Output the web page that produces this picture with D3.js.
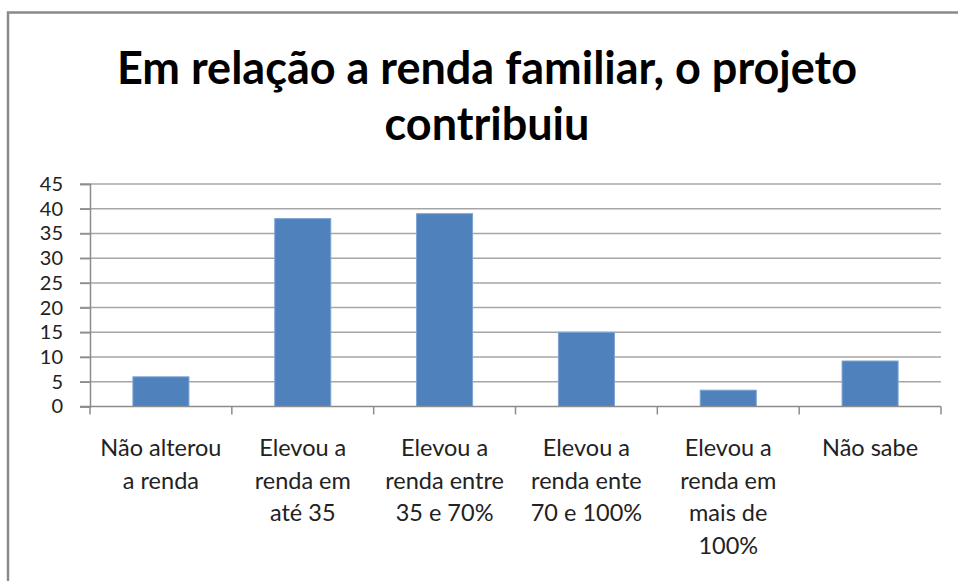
<!DOCTYPE html>
<html lang="pt">
<head>
    <meta charset="UTF-8">
    <title>Em relação a renda familiar</title>
    <script src="https://d3js.org/d3.v7.min.js"></script>
    <style>
        body {
            margin: 0;
            background: #fff;
            font-family: Lato, "Open Sans", sans-serif;
        }
        .grid line { stroke: #a6a6a6; stroke-width: 1.5px; }
        .axis path, .axis line { stroke: #8c8c8c; stroke-width: 1.5px; }
        .axis text { fill: #222; }
    </style>
</head>
<body>
    <svg id="chart" width="958" height="581"></svg>

    <script>
        // chart data
        const titleLines = ["Em relação a renda familiar, o projeto", "contribuiu"];
        const categories = [
            "Não alterou a renda",
            "Elevou a renda em até 35",
            "Elevou a renda entre 35 e 70%",
            "Elevou a renda ente 70 e 100%",
            "Elevou a renda em mais de 100%",
            "Não sabe"
        ];
        const categoryLines = [
            ["Não alterou", "a renda"],
            ["Elevou a", "renda em", "até 35"],
            ["Elevou a", "renda entre", "35 e 70%"],
            ["Elevou a", "renda ente", "70 e 100%"],
            ["Elevou a", "renda em", "mais de", "100%"],
            ["Não sabe"]
        ];
        const values = [6, 38, 39, 15, 3.3, 9.2];
        const yTicks = [0, 5, 10, 15, 20, 25, 30, 35, 40, 45];

        const svg = d3.select("#chart");

        // outer frame (only left and top edges are visible)
        svg.append("path")
            .attr("d", "M8,581 V12.5 H958")
            .attr("fill", "none")
            .attr("stroke", "#8a8a8a")
            .attr("stroke-width", 2.5);

        // title
        const title = svg.append("text")
            .attr("text-anchor", "middle")
            .attr("font-weight", "bold")
            .attr("font-size", 45)
            .attr("fill", "#000");
        title.selectAll("tspan")
            .data(titleLines)
            .join("tspan")
            .attr("x", 487)
            .attr("y", (d, i) => 84 + i * 56)
            .text(d => d);

        const margin = { left: 90, right: 17, top: 184, bottom: 175 };
        const W = 958, H = 581;

        const x = d3.scaleBand()
            .domain(categories)
            .range([margin.left, W - margin.right])
            .paddingInner(0.605)
            .paddingOuter(0.3025);

        const y = d3.scaleLinear()
            .domain([0, 45])
            .range([H - margin.bottom + 0.5, margin.top]);

        // gridlines
        svg.append("g")
            .attr("class", "grid")
            .selectAll("line")
            .data(yTicks.filter(d => d > 0))
            .join("line")
            .attr("x1", margin.left - 10)
            .attr("x2", W - margin.right)
            .attr("y1", d => y(d))
            .attr("y2", d => y(d));

        // bars
        svg.append("g")
            .selectAll("rect")
            .data(values)
            .join("rect")
            .attr("x", (d, i) => x(categories[i]))
            .attr("width", x.bandwidth())
            .attr("y", d => y(d))
            .attr("height", d => y(0) - y(d))
            .attr("fill", "#4f81bd")
            .attr("stroke", "#7ea3d3")
            .attr("stroke-width", 1);

        // y axis
        const yAxis = svg.append("g")
            .attr("class", "axis")
            .attr("transform", `translate(${margin.left},0)`)
            .call(d3.axisLeft(y).tickValues(yTicks).tickSize(10).tickPadding(17));
        yAxis.selectAll("text")
            .attr("font-size", 20)
            .attr("font-family", "Lato, sans-serif");

        // x axis: ticks sit at category boundaries
        const step = x.step();
        const boundaries = d3.range(categories.length + 1).map(i => margin.left + i * step);
        const xAxis = svg.append("g").attr("class", "axis");
        xAxis.append("line")
            .attr("x1", margin.left - 10)
            .attr("x2", W - margin.right)
            .attr("y1", y(0))
            .attr("y2", y(0));
        xAxis.selectAll(".tick")
            .data(boundaries)
            .join("line")
            .attr("x1", d => d)
            .attr("x2", d => d)
            .attr("y1", y(0))
            .attr("y2", y(0) + 8);

        const labels = svg.append("g")
            .selectAll("text")
            .data(categoryLines)
            .join("text")
            .attr("text-anchor", "middle")
            .attr("font-size", 23.5)
            .attr("fill", "#222");
        labels.selectAll("tspan")
            .data((d, i) => d.map(line => ({ line, i })))
            .join("tspan")
            .attr("x", d => x(categories[d.i]) + x.bandwidth() / 2)
            .attr("y", (d, j) => 456 + j * 32.5)
            .text(d => d.line);
    </script>
</body>
</html>
